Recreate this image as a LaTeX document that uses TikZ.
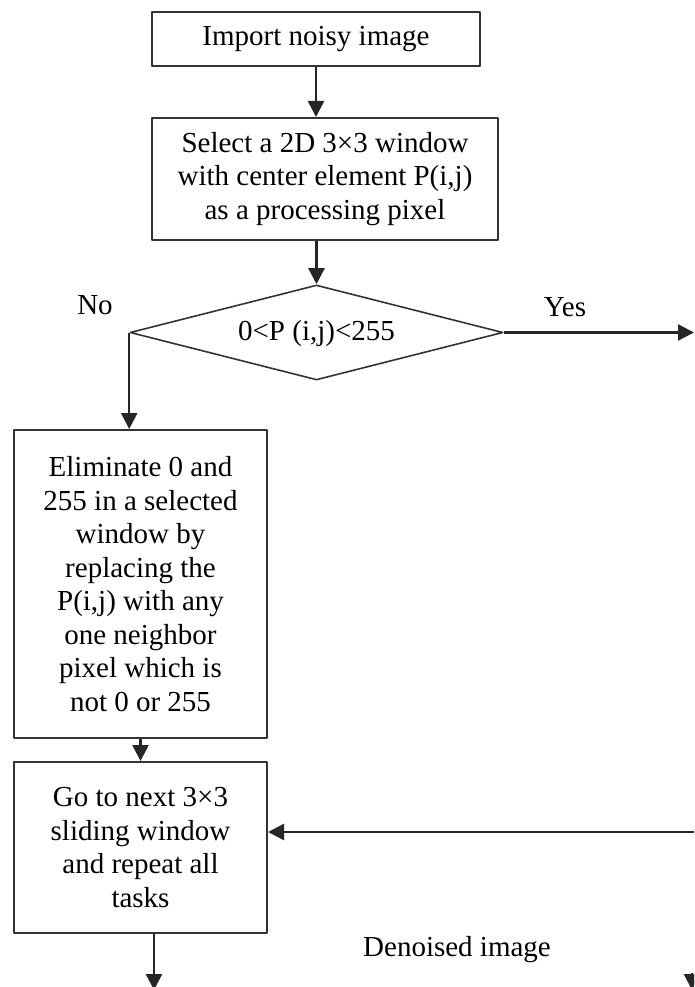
\documentclass[tikz,border=0pt]{standalone}
\usepackage{fontspec}
\setmainfont{Liberation Serif}
\usetikzlibrary{shapes.geometric,arrows.meta,calc,positioning}

\tikzset{
  procbox/.style={draw=black!80,line width=2pt,inner sep=0pt,align=center},
  decbox/.style={draw=black!80,line width=1.6pt,diamond,inner sep=0pt},
  arr/.style={line width=2.4pt,black!85,-{Triangle[width=16pt,length=16pt]}},
}

\begin{document}
\begin{tikzpicture}[x=1pt,y=-1pt,line join=round,font=\fontsize{29}{33.5}\selectfont]
\useasboundingbox (0,0) rectangle (694,987);
\clip (0,0) rectangle (694,987);
% boxes
\node[procbox,minimum width=328pt,minimum height=54pt] (imp) at (316,39) {Import noisy image};
\node[procbox,minimum width=346pt,minimum height=122pt] (sel) at (325,179)
  {Select a 2D 3×3 window\\with center element P(i,j)\\as a processing pixel};
\node[decbox,minimum width=373pt,minimum height=95pt] (dec) at (316.5,332.5)
  {\smash{\makebox[0pt]{\raisebox{-8pt}{0<P (i,j)<255}}}};
\node[procbox,minimum width=253pt,minimum height=308pt] (elim) at (140.5,584)
  {Eliminate 0 and\\255 in a selected\\window by\\replacing the\\P(i,j) with any\\one neighbor\\pixel which is\\not 0 or 255};
\node[procbox,minimum width=253pt,minimum height=171pt] (next) at (140.5,847.5)
  {Go to next 3×3\\sliding window\\and repeat all\\tasks};
% labels
\node (no) at (95,305) {No};
\node (yes) at (565,307) {Yes};
\node (den) at (457,950) {Denoised image};
% free ends
\coordinate (yesend) at (694,332.5);
\coordinate (back) at (694,832);
\coordinate (out) at (154,990);
\coordinate (r1) at (692,973);
\coordinate (r2) at (692,990);
% connectors
\draw[arr] (imp.south) -- (imp.south |- sel.north);
\draw[arr] (sel.south -| dec.north) -- (dec.north);
\draw[arr] (dec.east) -- (yesend);
\draw[arr] (dec.west) -- (dec.west |- elim.north);
\draw[arr] (elim.south) -- (next.north);
\draw[arr] (back) -- (back -| next.east);
\draw[arr] (out |- next.south) -- (out);
\draw[arr] (r1) -- (r2);
\end{tikzpicture}
\end{document}
